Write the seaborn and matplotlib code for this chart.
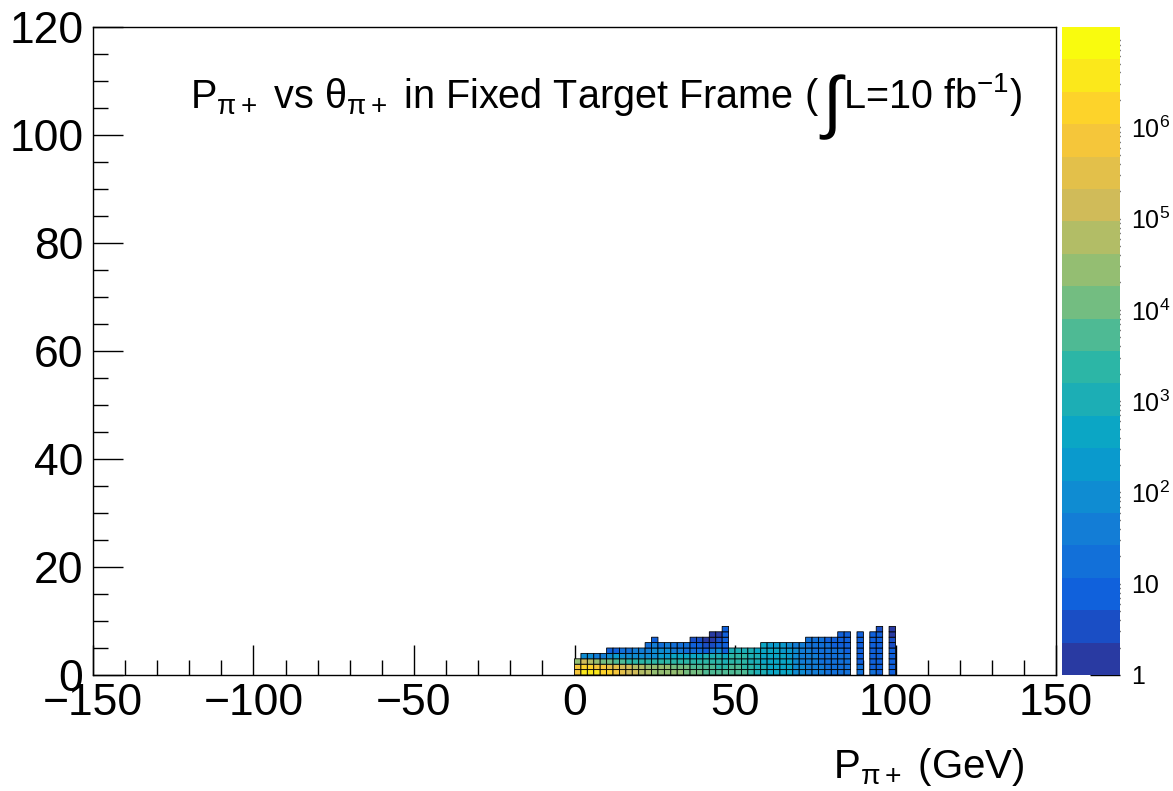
import numpy as np
import matplotlib
matplotlib.use("Agg")
import matplotlib.pyplot as plt
from matplotlib.colors import LinearSegmentedColormap, ListedColormap, BoundaryNorm
from matplotlib.ticker import MultipleLocator, LogLocator, FixedLocator, NullFormatter
import seaborn as sns

# ---------------- data ----------------
# momentum bin edges (GeV) and polar-angle bin edges (deg)
p_edges = [0, 2, 4, 6, 8, 10, 12, 14, 16, 18, 20, 22, 24, 26, 28, 30, 32, 34, 36, 38, 40,
           42, 44, 46, 48, 50, 52, 54, 56, 58, 60, 62, 64, 66, 68, 70, 72, 74, 76, 78, 80,
           82, 84, 86, 88, 90, 92, 94, 96, 98, 100]
theta_edges = [0, 1, 2, 3, 4, 5, 6, 7, 8, 9]

# log10(counts) per momentum column, listed from theta = 0 upward (empty list = no entries)
log_counts = [
    [6.0, 5.8, 4.5],
    [6.6, 6.3, 5.0, 2.0],
    [6.5, 6.2, 4.8, 1.8],
    [6.4, 6.0, 4.5, 1.5],
    [6.3, 5.8, 4.2, 1.5],
    [6.2, 5.6, 4.0, 2.0, 0.8],
    [6.0, 5.5, 3.8, 2.2, 1.0],
    [5.6, 5.2, 3.6, 2.0, 1.2],
    [5.2, 5.0, 3.5, 2.0, 1.2],
    [5.0, 4.8, 3.4, 1.8, 1.5],
    [4.8, 4.7, 3.4, 1.8, 1.5],
    [4.7, 4.6, 3.3, 1.8, 1.6, 1.2],
    [4.6, 4.5, 3.3, 2.0, 1.8, 1.5, 0.9],
    [4.5, 4.4, 3.3, 2.2, 1.8, 1.4],
    [4.5, 4.3, 3.3, 2.3, 1.8, 1.5],
    [4.4, 4.2, 3.3, 2.5, 1.6, 1.3],
    [4.3, 4.1, 3.3, 2.6, 1.5, 1.2],
    [4.2, 4.0, 3.3, 2.8, 1.4, 1.1],
    [4.1, 3.9, 3.3, 2.8, 1.3, 0.9, 0.6],
    [4.0, 3.8, 3.2, 2.8, 1.2, 0.8, 0.5],
    [3.9, 3.7, 3.2, 2.9, 1.0, 0.6, 0.3],
    [3.8, 3.6, 3.2, 2.9, 1.5, 0.6, 0.3, 0.2],
    [3.7, 3.5, 3.2, 2.9, 2.0, 0.9, 0.5, 0.2],
    [3.6, 3.4, 3.1, 2.8, 1.0, 1.0, 0.8, 0.8, 0.9],
    [3.7, 3.6, 3.5, 3.3, 3.0],
    [3.7, 3.6, 3.5, 3.4, 3.1],
    [3.6, 3.5, 3.4, 3.3, 3.1],
    [3.3, 3.2, 3.1, 3.0, 2.9],
    [3.1, 3.0, 2.9, 2.9, 2.8],
    [2.9, 2.9, 2.8, 2.8, 2.7, 2.5],
    [2.8, 2.8, 2.7, 2.7, 2.6, 2.4],
    [2.8, 2.7, 2.7, 2.6, 2.5, 2.3],
    [2.7, 2.7, 2.6, 2.5, 2.4, 2.2],
    [2.6, 2.6, 2.5, 2.4, 2.3, 2.1],
    [2.0, 2.0, 1.9, 1.9, 1.8, 1.7],
    [1.8, 1.8, 1.7, 1.7, 1.6, 1.5],
    [1.7, 1.7, 1.6, 1.6, 1.5, 1.4, 1.3],
    [1.6, 1.6, 1.5, 1.5, 1.4, 1.3, 1.2],
    [1.5, 1.5, 1.4, 1.4, 1.3, 1.2, 1.1],
    [1.3, 1.3, 1.2, 1.2, 1.2, 1.1, 1.0],
    [1.2, 1.2, 1.2, 1.1, 1.1, 1.0, 1.0],
    [1.2, 1.2, 1.1, 1.1, 1.1, 1.0, 1.0, 0.9],
    [1.1, 1.1, 1.1, 1.1, 1.0, 1.0, 0.9, 0.9],
    [],
    [1.1, 1.1, 1.0, 1.0, 1.0, 0.9, 0.9, 0.8],
    [],
    [1.1, 1.0, 1.0, 1.0, 1.0, 0.9, 0.9, 0.8],
    [1.0, 1.0, 1.0, 0.9, 0.9, 0.9, 0.8, 0.8, 0.7],
    [],
    [0.9, 0.9, 0.9, 0.8, 0.8, 0.7, 0.5, 0.3, 0.2],
]

z_log_max = 7.1          # top of the colour scale (log10)
n_contours = 20

x_ticks = [-150, -100, -50, 0, 50, 100, 150]
y_ticks = [0, 20, 40, 60, 80, 100, 120]
cbar_ticks = [1, 10, 100, 1000, 10000, 100000, 1000000]
cbar_labels = ["1", "10", "$10^{\\mathregular{2}}$", "$10^{\\mathregular{3}}$",
               "$10^{\\mathregular{4}}$", "$10^{\\mathregular{5}}$", "$10^{\\mathregular{6}}$"]

title_parts = ["P$_{\\mathregular{\\pi+}}$ vs $\\mathregular{\\theta}_{\\mathregular{\\pi+}}$ in Fixed Target Frame (",
               "\u222B", "L=10 fb$^{\\mathregular{-1}}$)"]
x_label = "P$_{\\mathregular{\\pi+}}$ (GeV)"

# ---------------- style ----------------
sns.set_theme(style="ticks")
plt.rcParams["font.family"] = ["Liberation Sans", "DejaVu Sans"]
plt.rcParams["mathtext.fontset"] = "custom"
plt.rcParams["mathtext.rm"] = "Liberation Sans"
plt.rcParams["mathtext.it"] = "Liberation Sans"
plt.rcParams["axes.unicode_minus"] = True
plt.rcParams["text.color"] = "black"
plt.rcParams["xtick.color"] = "black"
plt.rcParams["ytick.color"] = "black"

# ROOT kBird palette
stops = [0.0, 0.125, 0.25, 0.375, 0.5, 0.625, 0.75, 0.875, 1.0]
red = [0.2082, 0.0592, 0.0780, 0.0232, 0.1802, 0.5301, 0.8186, 0.9956, 0.9764]
green = [0.1664, 0.3599, 0.5041, 0.6419, 0.7178, 0.7492, 0.7328, 0.7862, 0.9832]
blue = [0.5293, 0.8684, 0.8385, 0.7914, 0.6425, 0.4662, 0.3499, 0.1968, 0.0539]
bird = LinearSegmentedColormap.from_list(
    "bird", [(s, (r, g, b)) for s, r, g, b in zip(stops, red, green, blue)])
level_cols = [bird(0.04 + 0.96 * i / (n_contours - 1)) for i in range(n_contours)]
cmap = ListedColormap(level_cols)
levels = 10 ** np.linspace(0, z_log_max, n_contours + 1)
norm = BoundaryNorm(levels, n_contours)

# build histogram grid
Z = np.full((len(theta_edges) - 1, len(p_edges) - 1), np.nan)
for j, col in enumerate(log_counts):
    for i, v in enumerate(col):
        Z[i, j] = 10 ** v
Zm = np.ma.masked_invalid(Z)

W, H = 1173, 791
fig = plt.figure(figsize=(W / 100, H / 100), dpi=100)
ax = fig.add_axes([93 / W, (H - 675) / H, (1056 - 93) / W, (675 - 27) / H])
cax = fig.add_axes([1062 / W, (H - 675) / H, 58 / W, (675 - 27) / H])

ax.pcolor(p_edges, theta_edges, Zm, cmap=cmap, norm=norm,
          edgecolors="black", linewidth=0.6)
ax.set_xlim(-150, 150)
ax.set_ylim(0, 120)
ax.xaxis.set_major_locator(FixedLocator(x_ticks))
ax.yaxis.set_major_locator(FixedLocator(y_ticks))
ax.xaxis.set_minor_locator(MultipleLocator(10))
ax.yaxis.set_minor_locator(MultipleLocator(5))
ax.tick_params(which="major", direction="in", length=21.6, width=1.0, labelsize=32,
               color="black", labelcolor="black")
ax.tick_params(which="minor", direction="in", length=10.8, width=1.0, color="black")
ax.tick_params(axis="x", pad=6)
ax.tick_params(axis="y", pad=7)
ax.set_facecolor("white")
for s in ax.spines.values():
    s.set_color("black")
    s.set_linewidth(1.0)
ax.grid(False)

# colour bar
cax.set_yscale("log")
mids = np.sqrt(levels[:-1] * levels[1:])
cax.pcolormesh([0, 1], levels, mids.reshape(-1, 1), cmap=cmap, norm=norm)
cax.set_ylim(1, 10 ** z_log_max)
cax.set_xlim(0, 1)
cax.set_xticks([])
for s in cax.spines.values():
    s.set_visible(False)
cax.yaxis.tick_right()
cax.yaxis.set_major_locator(FixedLocator(cbar_ticks))
cax.set_yticklabels(cbar_labels)
cax.yaxis.set_minor_locator(LogLocator(base=10, subs=np.arange(2, 10), numticks=20))
cax.yaxis.set_minor_formatter(NullFormatter())
cax.tick_params(which="major", direction="in", length=21.6, width=1.0, labelsize=18,
                pad=8, color="black", labelcolor="black")
cax.tick_params(which="minor", direction="in", length=10.8, width=1.0, color="black")

# title pieces
fig.canvas.draw()
r = fig.canvas.get_renderer()
xb, yb = 190, H - 108
t1 = fig.text(xb / W, yb / H, title_parts[0], fontsize=28.5, ha="left", va="baseline")
bb = t1.get_window_extent(r)
t2 = fig.text((bb.x1 + 3) / W, (yb - 17) / H, title_parts[1], fontsize=50, ha="left",
              va="baseline", family=["Liberation Sans", "DejaVu Sans"])
bb2 = t2.get_window_extent(r)
t3 = fig.text((bb2.x1 + 2) / W, yb / H, title_parts[2], fontsize=28.5, ha="left", va="baseline")

fig.text(1025 / W, (H - 778) / H, x_label, fontsize=29, ha="right", va="baseline")

fig.savefig("out.png", dpi=100, facecolor="white")
